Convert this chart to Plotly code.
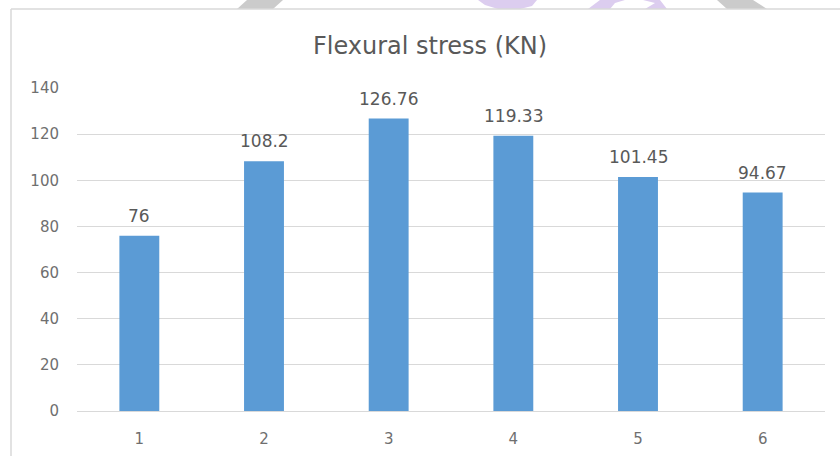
import plotly.graph_objects as go

categories = ["1", "2", "3", "4", "5", "6"]
values = [76, 108.2, 126.76, 119.33, 101.45, 94.67]
labels = ["76", "108.2", "126.76", "119.33", "101.45", "94.67"]
y_ticks = [0, 20, 40, 60, 80, 100, 120, 140]

FONT = "DejaVu Sans"
W, H = 840, 456
L, R, T, B = 77, 15, 88, 45
PW, PH = W - L - R, H - T - B

def px(x):
    return (x - L) / PW

def py(y):
    return (H - B - y) / PH

def path(points):
    return "M " + " L ".join(f"{px(a):.5f},{py(b):.5f}" for a, b in points) + " Z"

fig = go.Figure()
fig.add_trace(go.Bar(
    x=categories, y=values,
    marker=dict(color="#5B9BD5", line=dict(width=0)),
    width=0.32,
    hoverinfo="skip",
))

for i, (v, t) in enumerate(zip(values, labels)):
    fig.add_annotation(x=i, y=v, text=t, showarrow=False, yanchor="bottom",
                       yshift=8, font=dict(family=FONT, size=17, color="#595959"))

shapes = []
# watermark fragments above the chart frame
shapes.append(dict(type="path", xref="paper", yref="paper", layer="below",
                   path=path([(237, 9), (273, 9), (283, 0), (247, 0)]),
                   fillcolor="#cbcbcb", line=dict(width=0)))
shapes.append(dict(type="path", xref="paper", yref="paper", layer="below",
                   path=path([(478, 0), (537, 0), (532, 6), (520, 9), (498, 9), (485, 5)]),
                   fillcolor="#dccdef", line=dict(width=0)))
shapes.append(dict(type="path", xref="paper", yref="paper", layer="below",
                   path=path([(588, 9), (610, 9), (615, 3), (625, 0), (600, 0)]),
                   fillcolor="#dccdef", line=dict(width=0)))
shapes.append(dict(type="path", xref="paper", yref="paper", layer="below",
                   path=path([(643, 0), (655, 3), (645, 9), (667, 9), (660, 0)]),
                   fillcolor="#dccdef", line=dict(width=0)))
shapes.append(dict(type="path", xref="paper", yref="paper", layer="below",
                   path=path([(717, 0), (753, 0), (767, 9), (727, 9)]),
                   fillcolor="#cbcbcb", line=dict(width=0)))
# chart frame
shapes.append(dict(type="line", xref="paper", yref="paper",
                   x0=px(11), y0=py(9), x1=px(845), y1=py(9),
                   line=dict(color="#d9d9d9", width=1.5)))
shapes.append(dict(type="line", xref="paper", yref="paper",
                   x0=px(11), y0=py(9), x1=px(11), y1=py(460),
                   line=dict(color="#d9d9d9", width=1.5)))

TICK_COLOR = "#6f6f6f"

fig.update_layout(
    width=W, height=H,
    margin=dict(l=L, r=R, t=T, b=B, autoexpand=False),
    paper_bgcolor="white", plot_bgcolor="white",
    showlegend=False,
    bargap=0.68,
    shapes=shapes,
    title=dict(text="Flexural stress (KN)", xref="container", yref="container",
               x=430 / W, xanchor="center", y=1 - 46 / H, yanchor="middle",
               font=dict(family=FONT, size=24, color="#595959")),
    font=dict(family=FONT, color="#595959"),
    xaxis=dict(type="category", range=[-0.5, len(categories) - 0.5], showgrid=False,
               showline=True, linecolor="#d9d9d9", linewidth=1, ticks="",
               tickfont=dict(size=15, color=TICK_COLOR),
               ticklabelstandoff=14, fixedrange=True),
    yaxis=dict(range=[0, 140], tickvals=y_ticks, showgrid=True, gridcolor="#d9d9d9",
               gridwidth=1, zeroline=False, showline=False, ticks="",
               tickfont=dict(size=15, color=TICK_COLOR), ticklabelstandoff=17,
               fixedrange=True),
)

fig.write_html("out.html", config={"displayModeBar": False},
               post_script="document.body.style.margin='0';")
